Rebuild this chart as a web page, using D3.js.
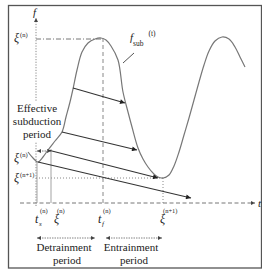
<!DOCTYPE html>
<html><head><meta charset="utf-8">
<script src="https://cdn.jsdelivr.net/npm/d3@7"></script>
<style>body{margin:0;background:#fff}svg{display:block}</style>
</head><body>
<script>
// curve f_sub(t) in data units
const curveT = [-0.8,-0.3,0.2,0.7,1.2,1.9,2.6,3.0,3.4,3.7,4.1,4.6,5.2,5.9,6.5,7.0,7.5,8.2,8.7,9.2,9.6,10.2,10.7,11.2,11.7,12.2,12.7,13.3,13.8,14.3,14.8,15.3,15.8,16.3,16.8,17.3,17.9,18.6,19.3,19.9,20.4,20.9];
const curveF = [5.1,4.5,4.1,4.6,5.3,6.2,7.1,8.6,10.1,11.4,13.3,15.1,16.0,16.4,16.5,16.3,15.7,14.3,11.1,9.1,7.6,5.5,4.4,3.6,3.0,2.6,2.5,2.8,3.7,5.1,6.8,8.5,10.3,12.1,13.8,15.2,16.2,16.6,16.4,15.6,14.6,13.6];
// arrows: start (t,f) -> end (t,f)
const arrowT0 = [3.7, 2.6, 1.2, 0.2];
const arrowF0 = [11.5, 7.1, 5.3, 4.1];
const arrowT1 = [8.9, 10.1, 12.2, 15.5];
const arrowF1 = [10.0, 5.3, 2.5, 0.5];
// key times and values
const tS = 0.1, tXi = 1.5, tF = 6.7, tXi1 = 12.7;
const fPeak = 16.5, fStart = 4.1, fMin = 2.5;
const xLabels = [
  {t: tS, base: "t", sub: "s", sup: "(n)"},
  {t: tXi, base: "ξ", sub: "", sup: "(n)"},
  {t: tF, base: "t", sub: "f", sup: "(n)"},
  {t: tXi1, base: "ξ", sub: "", sup: "(n+1)"}
];
const xLabelShift = [-2, 3, -5, -3];
const yLabels = [
  {f: fPeak, base: "ξ", sup: "(n)"},
  {f: fStart + 0.4, base: "ξ", sup: "(n)"},
  {f: fMin, base: "ξ", sup: "(n+1)"}
];

const W = 262, H = 269;
const FONT = "'Liberation Serif', 'Times New Roman', serif";
const svg = d3.select("body").append("svg").attr("width", W).attr("height", H)
  .attr("font-family", FONT);
const x = d3.scaleLinear().domain([0, 22]).range([36, 256]);
const y = d3.scaleLinear().domain([0, 16.5]).range([203, 38]);

const defs = svg.append("defs");
defs.append("marker").attr("id","ah").attr("viewBox","0 0 10 10").attr("refX",10).attr("refY",5)
  .attr("markerWidth",9).attr("markerHeight",5).attr("markerUnits","userSpaceOnUse").attr("orient","auto")
  .append("path").attr("d","M0,0L10,5L0,10z").attr("fill","#222");
defs.append("marker").attr("id","sh").attr("viewBox","0 0 10 10").attr("refX",10).attr("refY",5)
  .attr("markerWidth",5).attr("markerHeight",4).attr("markerUnits","userSpaceOnUse").attr("orient","auto-start-reverse")
  .append("path").attr("d","M0,0L10,5L0,10z").attr("fill","#444");

// frame
svg.append("rect").attr("x",8.5).attr("y",5.5).attr("width",253).attr("height",262.5)
  .attr("fill","none").attr("stroke","#555").attr("stroke-width",1.3);

// axes
svg.append("line").attr("x1",20).attr("x2",x(21.9)).attr("y1",y(0)).attr("y2",y(0))
  .attr("stroke","#777").attr("stroke-dasharray","4,2.5").attr("marker-end","url(#sh)");
svg.append("line").attr("x1",x(0)).attr("x2",x(0)).attr("y1",y(-0.3)).attr("y2",18)
  .attr("stroke","#888").attr("stroke-dasharray","1.2,1.5").attr("marker-end","url(#sh)");
svg.append("text").attr("x",x(-0.3)).attr("y",16).attr("font-size",11).attr("font-style","italic").attr("fill","#222").text("f");
svg.append("text").attr("x",x(22.2)).attr("y",y(-0.4)).attr("font-size",11).attr("font-style","italic").attr("fill","#222").text("t");

// guide lines
svg.append("line").attr("x1",x(0)).attr("x2",x(tF)).attr("y1",y(fPeak)+1).attr("y2",y(fPeak)+1)
  .attr("stroke","#777").attr("stroke-dasharray","5,2,1,2");
svg.append("line").attr("x1",x(tF)).attr("x2",x(tF)).attr("y1",y(fPeak)).attr("y2",y(0))
  .attr("stroke","#888").attr("stroke-dasharray","4,3");
svg.append("line").attr("x1",x(0)).attr("x2",x(tXi1)).attr("y1",y(fMin)).attr("y2",y(fMin))
  .attr("stroke","#888").attr("stroke-dasharray","1,2");
svg.append("line").attr("x1",x(tXi1)).attr("x2",x(tXi1)).attr("y1",y(fMin)).attr("y2",y(0))
  .attr("stroke","#888").attr("stroke-dasharray","1,2");
svg.append("line").attr("x1",x(tXi)).attr("x2",x(tXi)).attr("y1",y(5.4)).attr("y2",y(0))
  .attr("stroke","#999").attr("stroke-width",0.9);
svg.append("line").attr("x1",x(tS)).attr("x2",x(tS)).attr("y1",y(fStart)).attr("y2",y(0))
  .attr("stroke","#999").attr("stroke-width",0.9);

// effective subduction text with white background
const eff = ["Effective","subduction","period"];
svg.append("rect").attr("x",13).attr("y",101).attr("width",48).attr("height",41).attr("fill","#fff");
svg.selectAll(".eff").data(eff).join("text").attr("x",37).attr("y",(d,i)=>112+i*13)
  .attr("text-anchor","middle").attr("font-size",11).attr("fill","#222").text(d=>d);
svg.append("line").attr("x1",x(tS)).attr("x2",x(tXi)).attr("y1",151).attr("y2",151)
  .attr("stroke","#555").attr("stroke-width",0.8).attr("stroke-dasharray","1.5,1")
  .attr("marker-start","url(#sh)").attr("marker-end","url(#sh)");

// curve
svg.append("path").datum(d3.range(curveT.length))
  .attr("d", d3.line().x(i=>x(curveT[i])).y(i=>y(curveF[i])).curve(d3.curveCatmullRom))
  .attr("fill","none").attr("stroke","#777").attr("stroke-width",1.2);

// arrows
svg.selectAll(".arr").data(d3.range(arrowT0.length)).join("line")
  .attr("x1",i=>x(arrowT0[i])).attr("y1",i=>y(arrowF0[i]))
  .attr("x2",i=>x(arrowT1[i])).attr("y2",i=>y(arrowF1[i]))
  .attr("stroke","#333").attr("stroke-width",1.1).attr("marker-end","url(#ah)");

// f_sub(t) label
const fl = svg.append("text").attr("x",130).attr("y",41).attr("font-size",11).attr("fill","#222");
fl.append("tspan").attr("font-style","italic").text("f");
fl.append("tspan").attr("font-size",7.5).attr("dy",5).text("sub");
fl.append("tspan").attr("font-size",7.5).attr("dx",5).attr("dy",-10).text("(t)");
svg.append("line").attr("x1",123).attr("y1",63).attr("x2",134).attr("y2",53).attr("stroke","#555");

// x labels
xLabels.forEach((d,i)=>{
  const x0 = x(d.t) + xLabelShift[i];
  svg.append("text").attr("x",x0).attr("y",223).attr("font-size",12).attr("font-style","italic")
    .attr("fill","#222").text(d.base);
  if (d.sub) svg.append("text").attr("x",x0+4).attr("y",226).attr("font-size",7).attr("font-style","italic")
    .attr("fill","#222").text(d.sub);
  svg.append("text").attr("x",x0+(d.base==="t"?5:3)).attr("y",213).attr("font-size",6.5)
    .attr("fill","#222").text(d.sup);
});
// y labels
yLabels.forEach(d=>{
  svg.append("text").attr("x",14).attr("y",y(d.f)+4).attr("font-size",12).attr("font-style","italic")
    .attr("fill","#222").text(d.base);
  svg.append("text").attr("x",20).attr("y",y(d.f)-1).attr("font-size",6.5).attr("fill","#222").text(d.sup);
});

// period arrows
const periods = [
  {a: tS, b: 5.9, lines: ["Detrainment","period"], cx: 64},
  {a: 7.0, b: 12.6, lines: ["Entrainment","period"], cx: 131}
];
periods.forEach(p=>{
  svg.append("line").attr("x1",x(p.a)).attr("x2",x(p.b)).attr("y1",238).attr("y2",238)
    .attr("stroke","#666").attr("stroke-width",0.8).attr("stroke-dasharray","1.5,1")
    .attr("marker-start","url(#sh)").attr("marker-end","url(#sh)");
  p.lines.forEach((l,i)=>svg.append("text").attr("x",p.cx+(i?3:0)).attr("y",251+i*13)
    .attr("text-anchor","middle").attr("font-size",11).attr("fill","#222").text(l));
});
</script>
</body></html>
